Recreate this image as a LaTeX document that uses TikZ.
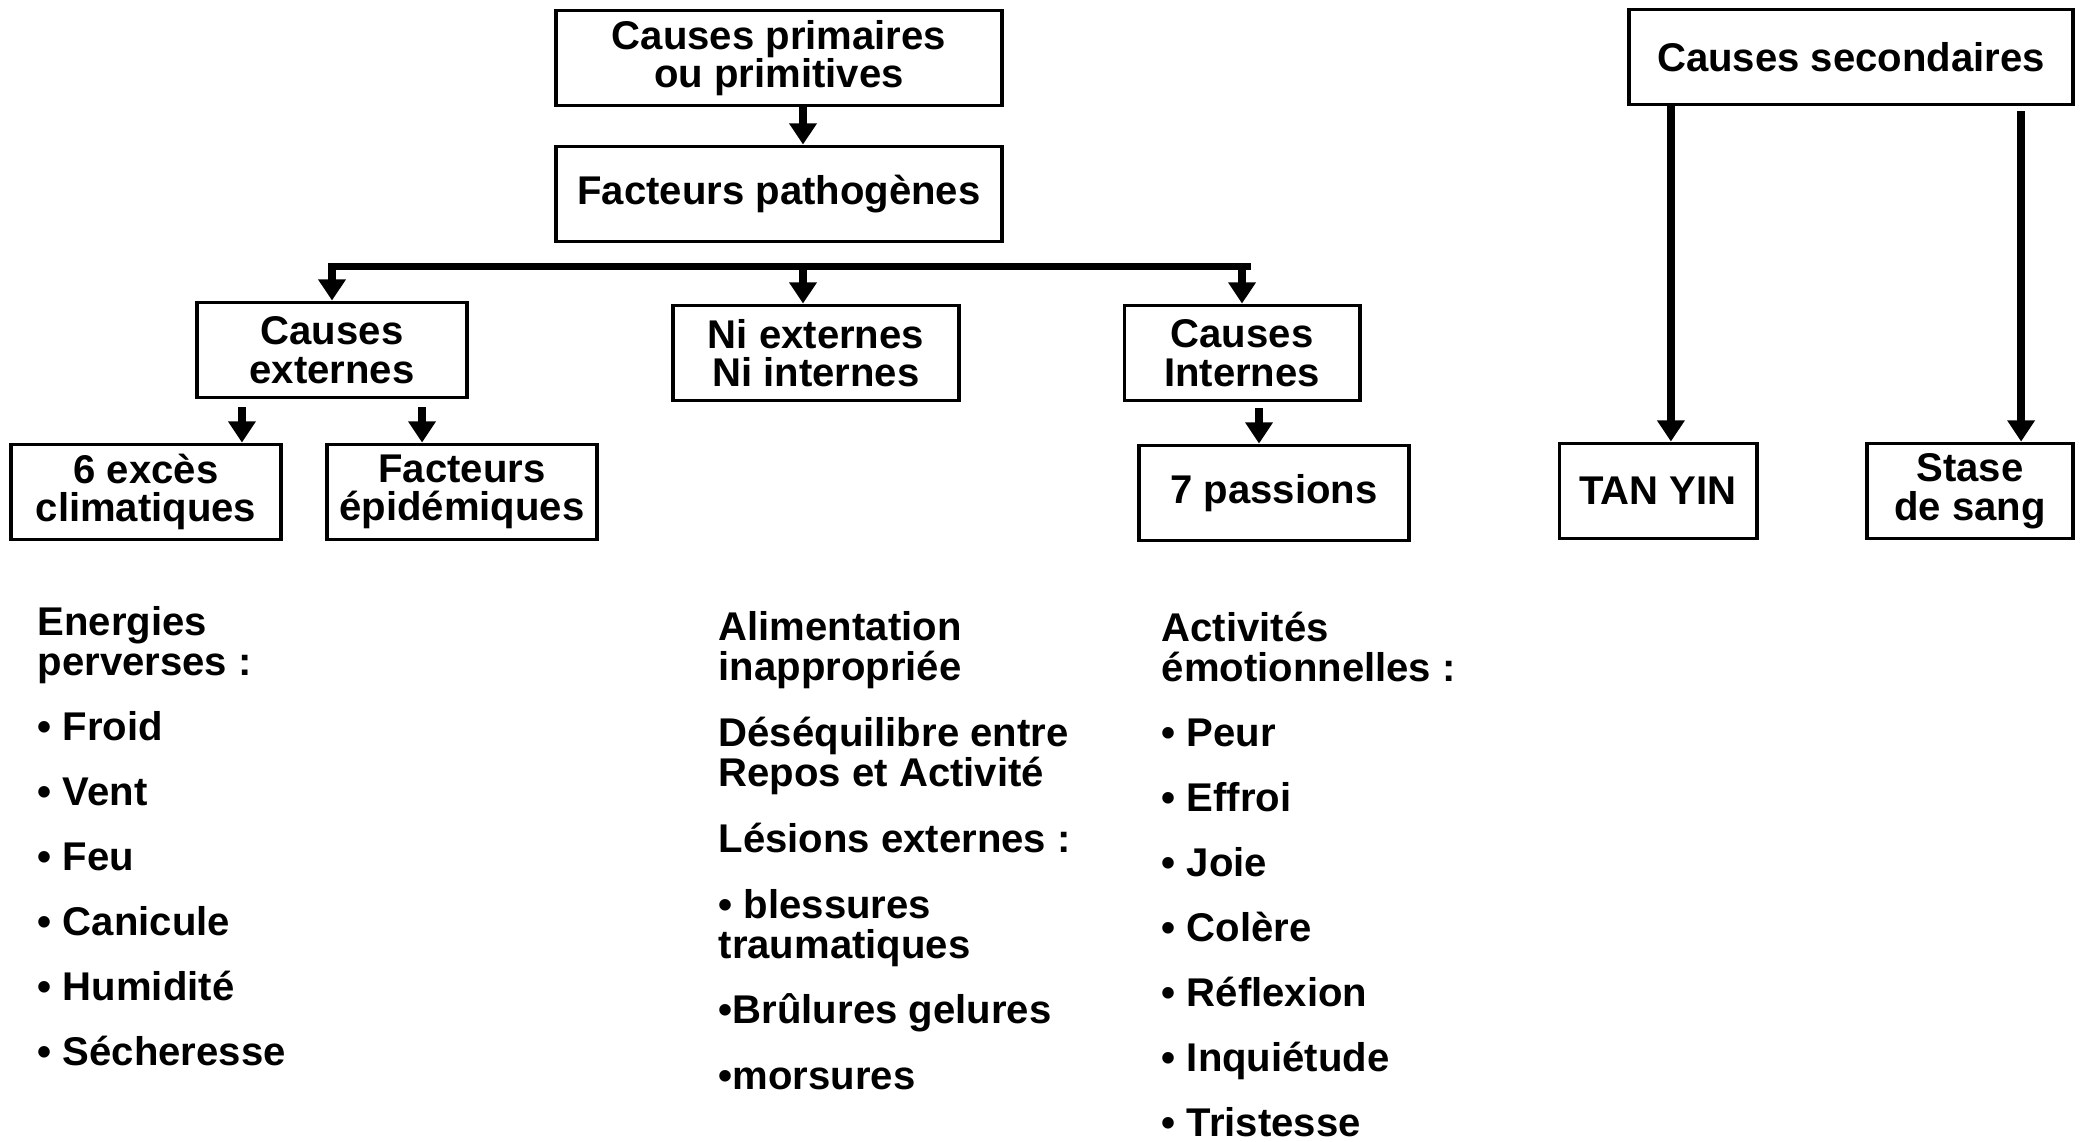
\documentclass[tikz,border=0pt]{standalone}
\usepackage{fontspec}
\setmainfont{Liberation Sans}
\usetikzlibrary{arrows.meta}

\begin{document}
\begin{tikzpicture}[x=0.01cm, y=-0.01cm,
    font=\bfseries\fontsize{11.4}{11}\selectfont,
    box/.style={draw, line width=1.1pt, align=center, inner sep=1pt, minimum height=0.95cm},
    arr/.style={line width=2.3pt, -{Triangle[length=6pt, width=7.5pt]}},
    bar/.style={line width=2pt},
    txt/.style={anchor=base west, inner sep=0pt}]
    \useasboundingbox (0,0) rectangle (2085,1141);

    \node[box, minimum width=4.46cm] (primaires) at (779,58) {Causes primaires\\ou primitives};
    \node[box, minimum width=4.46cm] (pathogenes) at (779,194) {Facteurs pathogènes};
    \node[box, minimum width=2.69cm] (externes) at (332,350) {Causes\\externes};
    \node[box, minimum width=2.85cm] (ni) at (816,353) {Ni externes\\Ni internes};
    \node[box, minimum width=2.35cm] (internes) at (1242,353) {Causes\\Internes};
    \node[box, minimum width=2.69cm] (exces) at (146,492) {6 excès\\climatiques};
    \node[box, minimum width=2.69cm] (epidemiques) at (462,492) {Facteurs\\épidémiques};
    \node[box, minimum width=2.70cm] (passions) at (1274,493) {7 passions};

    \node[box, minimum width=4.44cm] (secondaires) at (1851,57) {Causes secondaires};
    \node[box, minimum width=1.97cm] (tanyin) at (1658,491) {TAN YIN};
    \node[box, minimum width=2.06cm] (stase) at (1970,491) {Stase\\de sang};

    \coordinate (axis) at (803,0);
    \coordinate (barL) at (328,266);
    \coordinate (barR) at (1251,266);
    \coordinate (exA) at ([xshift=-0.9cm, yshift=-0.08cm]externes.south);
    \coordinate (exB) at ([xshift=0.9cm, yshift=-0.08cm]externes.south);
    \coordinate (inA) at ([xshift=0.17cm, yshift=-0.06cm]internes.south);
    \coordinate (seA) at ([xshift=-1.8cm]secondaires.south);
    \coordinate (seB) at ([xshift=1.7cm, yshift=-0.05cm]secondaires.south);

    \draw[arr] (primaires.south -| axis) -- (pathogenes.north -| axis);
    \draw[bar] (barL) -- (barR);
    \draw[arr] (externes.north |- barL) -- (externes.north);
    \draw[arr] (barL -| axis) -- (ni.north -| axis);
    \draw[arr] (internes.north |- barR) -- (internes.north);
    \draw[arr] (exA) -- (exA |- exces.north);
    \draw[arr] (exB) -- (exB |- epidemiques.north);
    \draw[arr] (inA) -- (inA |- passions.north);
    \draw[arr] (seA) -- (seA |- tanyin.north);
    \draw[arr] (seB) -- (seB |- stase.north);

    \node[txt] (ener1) at (37,635) {Energies};
    \node[txt] (ener2) at (37,675) {perverses :};
    \foreach \name [count=\i] in {Froid,Vent,Feu,Canicule,Humidité,Sécheresse}
        \node[txt] (ener\i b) at (37,675+65*\i) {• \name};

    \node[txt] (ali1) at (718,640) {Alimentation};
    \node[txt] (ali2) at (718,680) {inappropriée};
    \node[txt] (deseq1) at (718,746) {Déséquilibre entre};
    \node[txt] (deseq2) at (718,786) {Repos et Activité};
    \node[txt] (lesions) at (718,852) {Lésions externes :};
    \node[txt] (bless1) at (718,918) {• blessures};
    \node[txt] (bless2) at (718,958) {traumatiques};
    \node[txt] (brul) at (718,1023) {•Brûlures gelures};
    \node[txt] (mors) at (718,1089) {•morsures};

    \node[txt] (activ1) at (1161,641) {Activités};
    \node[txt] (activ2) at (1161,681) {émotionnelles :};
    \foreach \name [count=\i] in {Peur,Effroi,Joie,Colère,Réflexion,Inquiétude,Tristesse}
        \node[txt] (emo\i) at (1161,681+65*\i) {• \name};
\end{tikzpicture}
\end{document}
